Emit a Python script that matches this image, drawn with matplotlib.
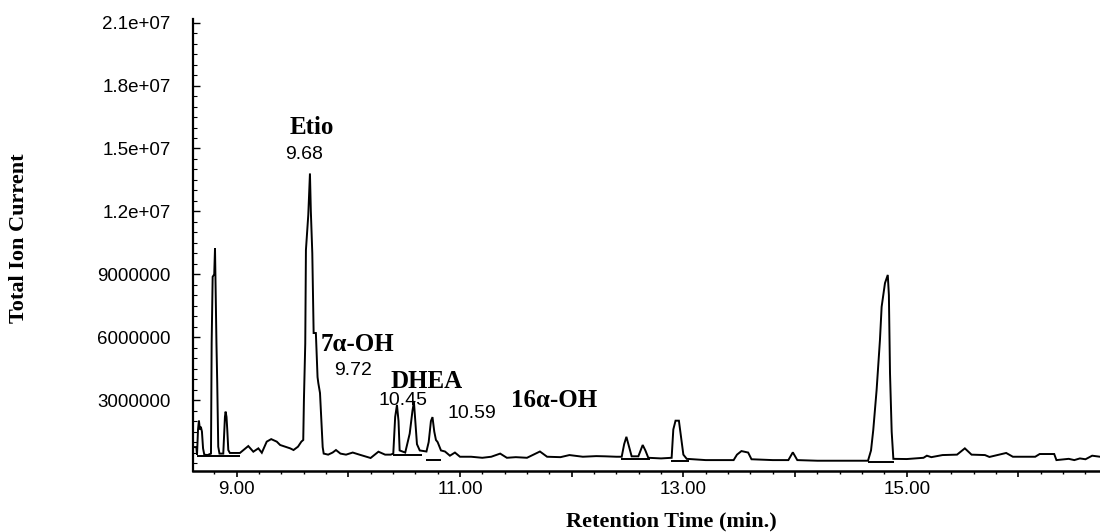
import matplotlib
matplotlib.use("Agg")
import matplotlib.pyplot as plt
from matplotlib.ticker import FixedLocator, MultipleLocator

# ---- data (retention time in min, intensity in millions of counts) ----
trace_t = [8.610, 8.640, 8.646, 8.655, 8.663, 8.672, 8.680, 8.690, 8.700, 8.711,
           8.740, 8.771, 8.777, 8.786, 8.800, 8.807, 8.813, 8.820, 8.827, 8.836,
           8.847, 8.881, 8.890, 8.896, 8.902, 8.910, 8.917, 8.926, 8.940, 9.015,
           9.030, 9.105, 9.150, 9.195, 9.226, 9.270, 9.310, 9.360, 9.390, 9.436,
           9.480, 9.510, 9.550, 9.580, 9.597, 9.603, 9.615, 9.621, 9.642, 9.657,
           9.665, 9.678, 9.690, 9.710, 9.717, 9.725, 9.732, 9.747, 9.771, 9.780,
           9.820, 9.860, 9.890, 9.930, 9.980, 10.040, 10.100, 10.200, 10.270, 10.330,
           10.380, 10.403, 10.420, 10.436, 10.450, 10.460, 10.510, 10.550, 10.575, 10.588,
           10.600, 10.615, 10.640, 10.700, 10.720, 10.740, 10.754, 10.770, 10.785, 10.800,
           10.830, 10.866, 10.910, 10.955, 11.000, 11.100, 11.200, 11.280, 11.360, 11.420,
           11.500, 11.600, 11.716, 11.780, 11.900, 11.980, 12.100, 12.220, 12.300, 12.400,
           12.448, 12.470, 12.490, 12.510, 12.537, 12.597, 12.636, 12.660, 12.686, 12.800,
           12.895, 12.910, 12.930, 12.960, 12.980, 13.000, 13.030, 13.200, 13.450, 13.480,
           13.520, 13.580, 13.610, 13.800, 13.940, 13.980, 14.020, 14.200, 14.500, 14.653,
           14.680, 14.700, 14.730, 14.760, 14.775, 14.805, 14.830, 14.840, 14.850, 14.865,
           14.880, 15.000, 15.150, 15.180, 15.220, 15.320, 15.450, 15.520, 15.580, 15.700,
           15.740, 15.890, 15.950, 16.150, 16.190, 16.320, 16.340, 16.450, 16.500, 16.550,
           16.600, 16.660, 16.730]
trace_v = [0.76, 0.76, 0.40, 1.60, 2.02, 1.60, 1.73, 1.50, 0.70, 0.40,
           0.38, 0.45, 5.72, 8.88, 9.00, 10.24, 8.00, 5.70, 3.81, 0.78,
           0.45, 0.45, 1.50, 2.21, 2.45, 2.20, 1.57, 0.62, 0.48, 0.48,
           0.48, 0.81, 0.54, 0.70, 0.49, 1.02, 1.14, 1.02, 0.86, 0.78,
           0.70, 0.62, 0.78, 1.02, 1.10, 3.00, 5.70, 10.16, 11.83, 13.81,
           12.00, 10.01, 6.20, 6.20, 5.25, 4.10, 3.81, 3.34, 0.76, 0.45,
           0.40, 0.50, 0.62, 0.45, 0.40, 0.50, 0.40, 0.24, 0.54, 0.40,
           0.40, 0.45, 2.20, 2.77, 2.00, 0.60, 0.50, 1.40, 2.50, 2.91,
           2.00, 0.90, 0.60, 0.55, 1.00, 2.00, 2.19, 1.50, 1.10, 1.00,
           0.60, 0.55, 0.35, 0.50, 0.30, 0.30, 0.25, 0.30, 0.45, 0.25,
           0.28, 0.25, 0.55, 0.30, 0.28, 0.38, 0.30, 0.33, 0.32, 0.30,
           0.30, 0.90, 1.25, 0.85, 0.32, 0.32, 0.86, 0.60, 0.25, 0.22,
           0.25, 1.60, 2.02, 2.02, 1.20, 0.40, 0.20, 0.14, 0.14, 0.40,
           0.57, 0.50, 0.18, 0.14, 0.14, 0.51, 0.14, 0.11, 0.11, 0.11,
           0.60, 1.57, 3.48, 5.87, 7.45, 8.58, 8.97, 8.01, 4.29, 1.49,
           0.20, 0.19, 0.25, 0.35, 0.28, 0.38, 0.40, 0.70, 0.40, 0.38,
           0.29, 0.48, 0.30, 0.30, 0.43, 0.43, 0.14, 0.20, 0.14, 0.22,
           0.18, 0.35, 0.30]

# integration baselines drawn under peaks
base_start = [8.646, 10.403, 10.700, 12.440, 12.885, 14.650]
base_end   = [9.030, 10.660, 10.830, 12.700, 13.050, 14.890]
base_level = [0.33, 0.38, 0.14, 0.18, 0.10, 0.06]

# peak annotations
ann_names  = ["Etio", "7α-OH", "DHEA", "16α-OH"]
ann_name_t = [9.672, 10.078, 10.700, 11.842]
ann_name_v = [16.0, 5.67, 3.91, 3.0]
ann_rt     = ["9.68", "9.72", "10.45", "10.59"]
ann_rt_t   = [9.603, 10.042, 10.490, 11.107]
ann_rt_v   = [14.73, 4.43, 3.0, 2.38]

x_major = [9, 10, 11, 12, 13, 14, 15, 16]
x_labels = ["9.00", "", "11.00", "", "13.00", "", "15.00", ""]
y_major = [3, 6, 9, 12, 15, 18, 21]
y_labels = ["3000000", "6000000", "9000000", "1.2e+07", "1.5e+07", "1.8e+07", "2.1e+07"]

# ---- figure ----
W, H = 1100, 532
fig = plt.figure(figsize=(W / 100, H / 100), dpi=100)
ax = fig.add_axes([193 / W, 1 - 471 / H, (W - 193) / W, (471 - 18.7) / H])

ax.plot(trace_t, trace_v, color="black", lw=1.4, solid_joinstyle="miter")
ax.hlines(base_level, base_start, base_end, color="black", lw=1.4)

ax.set_xlim(8.610, 16.73)
ax.set_ylim(-0.38, 21.19)

for s in ["top", "right"]:
    ax.spines[s].set_visible(False)
ax.spines["left"].set_linewidth(1.6)
ax.spines["bottom"].set_linewidth(1.8)

tick_font = dict(family=["Liberation Sans", "DejaVu Sans"], size=13.5)
ax.xaxis.set_major_locator(FixedLocator(x_major))
ax.set_xticklabels(x_labels, **tick_font)
ax.xaxis.set_minor_locator(MultipleLocator(0.2))
ax.tick_params(axis="x", which="major", direction="out", length=4.5, width=1.2, pad=3.0)
ax.tick_params(axis="x", which="minor", direction="out", length=2, width=1.0)

ax.yaxis.set_major_locator(FixedLocator(y_major))
ax.set_yticklabels(y_labels, **tick_font)
ax.yaxis.set_minor_locator(MultipleLocator(0.5))
ax.tick_params(axis="y", which="major", direction="in", length=5, width=1.0, pad=16)
ax.tick_params(axis="y", which="minor", direction="in", length=3, width=0.8)

serif_bold = dict(family=["Liberation Serif", "DejaVu Serif"], weight="bold")
for name, t, v in zip(ann_names, ann_name_t, ann_name_v):
    ax.text(t, v, name, ha="center", va="center", fontsize=18, **serif_bold)
for rt, t, v in zip(ann_rt, ann_rt_t, ann_rt_v):
    ax.text(t, v, rt, ha="center", va="center", fontsize=14,
            family=["Liberation Sans", "DejaVu Sans"])

fig.text(671 / W, 1 - 521 / H, "Retention Time (min.)", ha="center", va="center",
         fontsize=16, **serif_bold)
fig.text(19.5 / W, 1 - 238 / H, "Total Ion Current", ha="center", va="center",
         rotation=90, fontsize=16, **serif_bold)

fig.savefig("out.png", dpi=100)
